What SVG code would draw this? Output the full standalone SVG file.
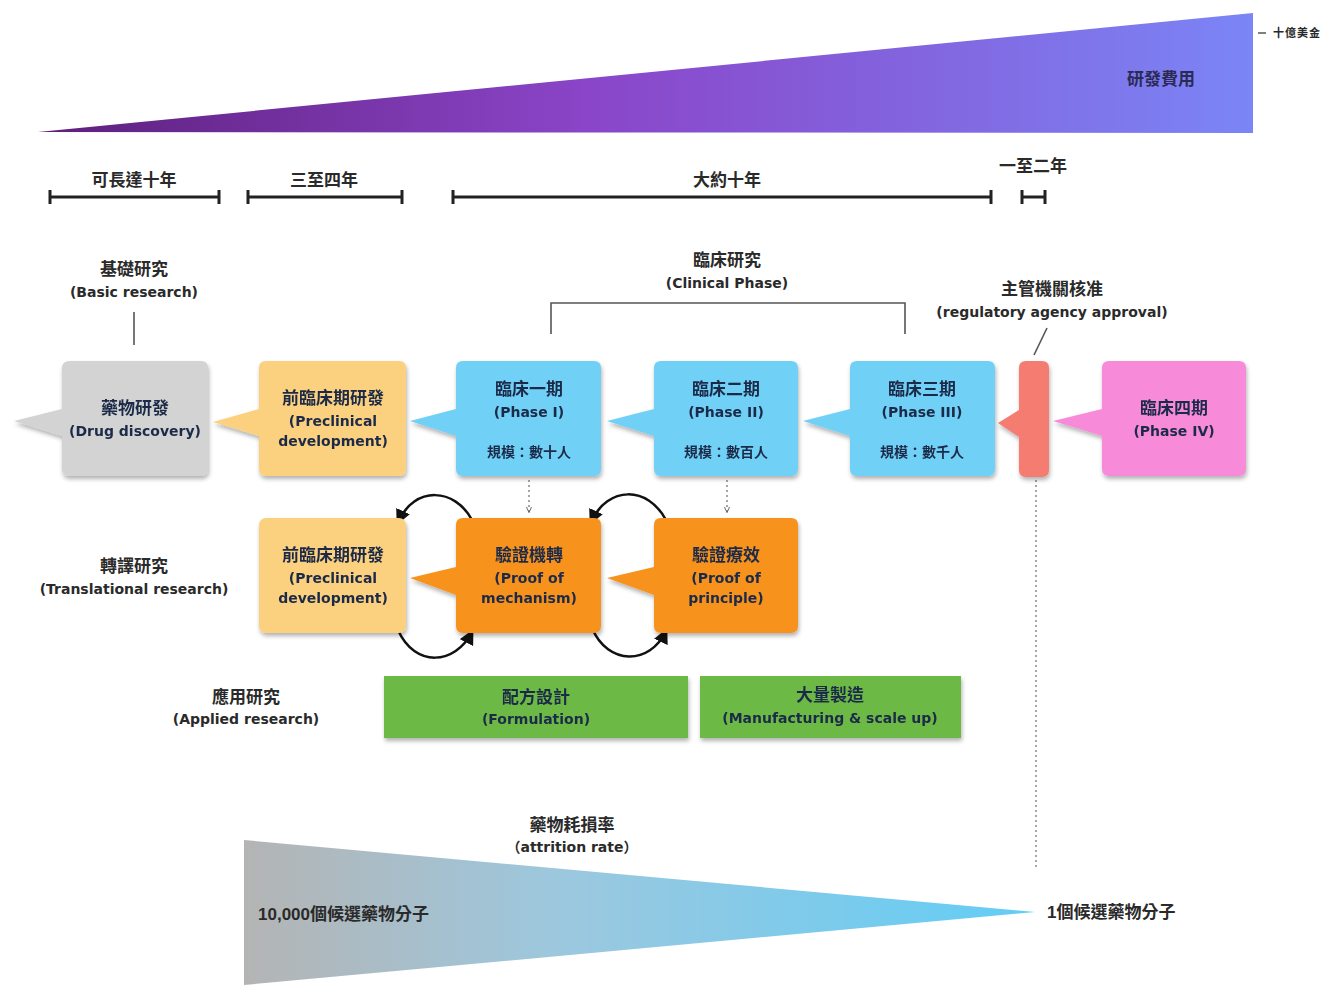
<svg xmlns="http://www.w3.org/2000/svg" width="1325" height="985" viewBox="0 0 1325 985">
<defs>
<linearGradient id="cost" x1="0" y1="0" x2="1" y2="0">
<stop offset="0" stop-color="#5e1f7c"/>
<stop offset="0.45" stop-color="#8a45c8"/>
<stop offset="1" stop-color="#7b85f6"/>
</linearGradient>
<linearGradient id="attr" x1="0" y1="0" x2="1" y2="0">
<stop offset="0" stop-color="#b4b4b4"/>
<stop offset="0.4" stop-color="#9cc8de"/>
<stop offset="1" stop-color="#62cdf6"/>
</linearGradient>
<filter id="sh" x="-10%" y="-10%" width="125%" height="130%">
<feDropShadow dx="1" dy="3" stdDeviation="2" flood-color="#000" flood-opacity="0.3"/>
</filter>
<marker id="ah" viewBox="0 0 10 10" refX="8" refY="5" markerWidth="6" markerHeight="6" orient="auto">
<path d="M0,0 L10,5 L0,10 z" fill="#111"/>
</marker>
<marker id="ahs" viewBox="0 0 10 10" refX="8" refY="5" markerWidth="5" markerHeight="5" orient="auto">
<path d="M0,1 L9,5 L0,9" fill="none" stroke="#666" stroke-width="1.5"/>
</marker>
<marker id="tick" viewBox="0 0 4 14" refX="2" refY="7" markerWidth="4" markerHeight="14" markerUnits="userSpaceOnUse" orient="auto">
<rect x="0.5" y="0" width="3" height="14" fill="#222"/>
</marker>
</defs>
<style>
text{font-family:"Liberation Sans","Noto Sans CJK TC",sans-serif;font-weight:bold;text-anchor:middle;fill:#2a2a2a}
.zh{font-size:17px}
.en{font-size:14px;font-family:"DejaVu Sans","Noto Sans CJK TC",sans-serif}
.n text{fill:#1d2b48}
.bar{stroke:#222;stroke-width:3;marker-start:url(#tick);marker-end:url(#tick)}
.ln{stroke:#555;stroke-width:1.6;fill:none}
.cv{stroke:#111;stroke-width:2.5;fill:none;marker-end:url(#ah)}
.dt{stroke:#777;stroke-width:1.3;stroke-dasharray:2 3;fill:none}
.gray{fill:#d3d3d3}
.yel{fill:#fbd07e}
.blu{fill:#6fd0f6}
.org{fill:#f7921f}
.grn{fill:#6cb944}
</style>

<g id="cost-wedge">
<polygon points="38,132 1253,13 1253,133" fill="url(#cost)"/>
<text x="1161" y="85" class="zh" style="fill:#2a2a55">研發費用</text>
<line x1="1258" y1="33" x2="1266" y2="33" stroke="#555" stroke-width="1.5"/>
<text x="1297" y="37" style="font-size:11px;letter-spacing:1px">十億美金</text>
</g>

<g id="timeline">
<line class="bar" x1="50" y1="197" x2="219" y2="197"/>
<text x="134" y="186" class="zh">可長達十年</text>
<line class="bar" x1="248" y1="197" x2="402" y2="197"/>
<text x="324" y="186" class="zh">三至四年</text>
<line class="bar" x1="453" y1="197" x2="991" y2="197"/>
<text x="727" y="186" class="zh">大約十年</text>
<line class="bar" x1="1022" y1="197" x2="1045" y2="197"/>
<text x="1033" y="172" class="zh">一至二年</text>
</g>

<g id="label-basic">
<text x="134" y="275" class="zh">基礎研究</text>
<text x="134" y="297" class="en">(Basic research)</text>
</g>
<g id="label-clinical">
<text x="727" y="266" class="zh">臨床研究</text>
<text x="727" y="288" class="en">(Clinical Phase)</text>
</g>
<g id="label-regulatory">
<text x="1052" y="295" class="zh">主管機關核准</text>
<text x="1052" y="317" class="en">(regulatory agency approval)</text>
</g>
<g id="label-translational">
<text x="134" y="572" class="zh">轉譯研究</text>
<text x="134" y="594" class="en">(Translational research)</text>
</g>
<g id="label-applied">
<text x="246" y="703" class="zh">應用研究</text>
<text x="246" y="724" class="en">(Applied research)</text>
</g>

<g id="connectors">
<line class="ln" x1="134" y1="312" x2="134" y2="345"/>
<polyline class="ln" points="551,334 551,303 905,303 905,334"/>
<line class="ln" x1="1047" y1="328" x2="1034" y2="355"/>
<line class="dt" x1="1036" y1="480" x2="1036" y2="870"/>
<line class="dt" x1="529" y1="480" x2="529" y2="512" marker-end="url(#ahs)"/>
<line class="dt" x1="727" y1="480" x2="727" y2="512" marker-end="url(#ahs)"/>
<path class="cv" d="M472,520 C455,488 415,485 398,522"/>
<path class="cv" d="M398,630 C415,668 455,665 472,632"/>
<path class="cv" d="M666,520 C648,486 608,485 591,522"/>
<path class="cv" d="M592,628 C608,666 650,665 666,631"/>
</g>

<g id="drug-discovery" class="n" filter="url(#sh)">
<path class="gray" d="M70,361 H201 Q208,361 208,368 V469 Q208,476 201,476 H69 Q62,476 62,469 V436 L14,421 L62,409 V368 Q62,361 70,361 Z"/>
<text x="135" y="414" class="zh">藥物研發</text>
<text x="135" y="436" class="en">(Drug discovery)</text>
</g>

<g id="preclinical" class="n" filter="url(#sh)">
<path class="yel" d="M266,361 H399 Q406,361 406,368 V469 Q406,476 399,476 H266 Q259,476 259,469 V436 L213,422 L259,409 V368 Q259,361 266,361 Z"/>
<text x="333" y="404" class="zh">前臨床期研發</text>
<text x="333" y="426" class="en">(Preclinical</text>
<text x="333" y="446" class="en">development)</text>
</g>

<g id="phase1" class="n" filter="url(#sh)">
<path class="blu" d="M463,361 H594 Q601,361 601,368 V469 Q601,476 594,476 H463 Q456,476 456,469 V436 L410,421 L456,409 V368 Q456,361 463,361 Z"/>
<text x="529" y="395" class="zh">臨床一期</text>
<text x="529" y="417" class="en">(Phase I)</text>
<text x="529" y="457" class="en">規模：數十人</text>
</g>

<g id="phase2" class="n" filter="url(#sh)">
<path class="blu" d="M661,361 H791 Q798,361 798,368 V469 Q798,476 791,476 H661 Q654,476 654,469 V436 L607,421 L654,409 V368 Q654,361 661,361 Z"/>
<text x="726" y="395" class="zh">臨床二期</text>
<text x="726" y="417" class="en">(Phase II)</text>
<text x="726" y="457" class="en">規模：數百人</text>
</g>

<g id="phase3" class="n" filter="url(#sh)">
<path class="blu" d="M857,361 H988 Q995,361 995,368 V469 Q995,476 988,476 H857 Q850,476 850,469 V436 L803,421 L850,409 V368 Q850,361 857,361 Z"/>
<text x="922" y="395" class="zh">臨床三期</text>
<text x="922" y="417" class="en">(Phase III)</text>
<text x="922" y="457" class="en">規模：數千人</text>
</g>

<g id="approval" filter="url(#sh)">
<path fill="#f47b70" d="M1026,361 H1042 Q1049,361 1049,368 V470 Q1049,477 1042,477 H1026 Q1019,477 1019,470 V437 L998,423 L1019,410 V368 Q1019,361 1026,361 Z"/>
</g>

<g id="phase4" class="n" filter="url(#sh)">
<path fill="#f78bd9" d="M1109,361 H1239 Q1246,361 1246,368 V469 Q1246,476 1239,476 H1109 Q1102,476 1102,469 V436 L1053,421 L1102,409 V368 Q1102,361 1109,361 Z"/>
<text x="1174" y="414" class="zh">臨床四期</text>
<text x="1174" y="436" class="en">(Phase IV)</text>
</g>

<g id="preclinical-2" class="n" filter="url(#sh)">
<rect class="yel" x="259" y="518" width="147" height="115" rx="7"/>
<text x="333" y="561" class="zh">前臨床期研發</text>
<text x="333" y="583" class="en">(Preclinical</text>
<text x="333" y="603" class="en">development)</text>
</g>

<g id="mechanism" class="n" filter="url(#sh)">
<path class="org" d="M463,518 H594 Q601,518 601,525 V626 Q601,633 594,633 H463 Q456,633 456,626 V595 L410,578 L456,567 V525 Q456,518 463,518 Z"/>
<text x="529" y="561" class="zh">驗證機轉</text>
<text x="529" y="583" class="en">(Proof of</text>
<text x="529" y="603" class="en">mechanism)</text>
</g>

<g id="principle" class="n" filter="url(#sh)">
<path class="org" d="M661,518 H791 Q798,518 798,525 V626 Q798,633 791,633 H661 Q654,633 654,626 V595 L607,578 L654,567 V525 Q654,518 661,518 Z"/>
<text x="726" y="561" class="zh">驗證療效</text>
<text x="726" y="583" class="en">(Proof of</text>
<text x="726" y="603" class="en">principle)</text>
</g>

<g id="formulation" class="n" filter="url(#sh)">
<rect class="grn" x="384" y="676" width="304" height="62"/>
<text x="536" y="703" class="zh">配方設計</text>
<text x="536" y="724" class="en">(Formulation)</text>
</g>

<g id="manufacturing" class="n" filter="url(#sh)">
<rect class="grn" x="700" y="676" width="261" height="62"/>
<text x="830" y="701" class="zh">大量製造</text>
<text x="830" y="723" class="en">(Manufacturing &amp; scale up)</text>
</g>

<g id="attrition">
<polygon points="244,840 1035,912 244,985" fill="url(#attr)"/>
<text x="572" y="831" class="zh">藥物耗損率</text>
<text x="572" y="852" class="en">（attrition rate）</text>
<text x="258" y="920" class="zh" style="text-anchor:start">10,000個候選藥物分子</text>
<text x="1047" y="918" class="zh" style="text-anchor:start">1個候選藥物分子</text>
</g>
</svg>
